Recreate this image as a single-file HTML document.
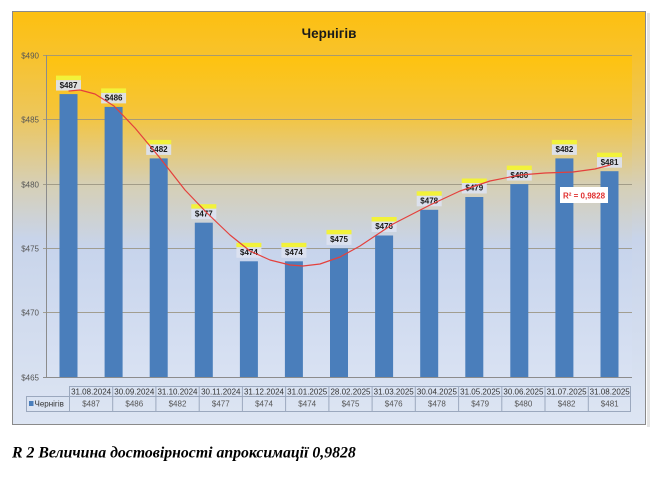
<!DOCTYPE html>
<html><head><meta charset="utf-8"><style>
html,body{margin:0;padding:0;background:#fff;width:657px;height:480px;overflow:hidden}
svg{display:block}
text{font-family:"Liberation Sans","DejaVu Sans",sans-serif}
</style></head><body>
<svg width="657" height="480" viewBox="0 0 657 480" xmlns="http://www.w3.org/2000/svg">
<defs>
<linearGradient id="og" x1="0" y1="0" x2="0" y2="1">
<stop offset="0" stop-color="#FDC010"/>
<stop offset="0.1" stop-color="#F8C22A"/>
<stop offset="0.25" stop-color="#EDC65A"/>
<stop offset="0.42" stop-color="#D6CFB6"/>
<stop offset="0.55" stop-color="#C8D4EA"/>
<stop offset="1" stop-color="#DDE5F3"/>
</linearGradient>
<linearGradient id="pg" x1="0" y1="0" x2="0" y2="1">
<stop offset="0" stop-color="#FEC30E"/>
<stop offset="0.18" stop-color="#F5C43A"/>
<stop offset="0.4" stop-color="#D6CFB4"/>
<stop offset="0.6" stop-color="#C7D4EC"/>
<stop offset="1" stop-color="#D9E2F3"/>
</linearGradient>
</defs>
<rect x="647" y="13" width="3" height="414" fill="#e4e4e4"/>
<rect x="12.5" y="11.5" width="633" height="413" fill="url(#og)" stroke="#8a8a8a" stroke-width="1"/>
<rect x="46" y="55" width="586" height="322" fill="url(#pg)"/>
<text x="329" y="38" font-size="13.5" font-weight="bold" text-anchor="middle" fill="#1a1a1a">Чернігів</text>
<g stroke="#9a9480" stroke-width="1" opacity="0.85">
<line x1="43" y1="55.5" x2="632" y2="55.5"/>
<line x1="43" y1="119.5" x2="632" y2="119.5"/>
<line x1="43" y1="184.5" x2="632" y2="184.5"/>
<line x1="43" y1="248.5" x2="632" y2="248.5"/>
<line x1="43" y1="312.5" x2="632" y2="312.5"/>
</g>
<line x1="46.5" y1="55" x2="46.5" y2="377" stroke="#8c8c8c"/>
<line x1="43" y1="377.5" x2="632" y2="377.5" stroke="#8c8c8c"/>
<g font-size="8" fill="#555" text-anchor="end">
<text x="39" y="58.5">$490</text>
<text x="39" y="122.5">$485</text>
<text x="39" y="187.5">$480</text>
<text x="39" y="251.5">$475</text>
<text x="39" y="315.5">$470</text>
<text x="39" y="380.5">$465</text>
</g>
<g fill="#4A7EBB">
<rect x="59.5" y="94.1" width="18" height="283"/>
<rect x="104.6" y="106.9" width="18" height="270.1"/>
<rect x="149.7" y="158.4" width="18" height="218.6"/>
<rect x="194.8" y="222.7" width="18" height="154.3"/>
<rect x="239.9" y="261.3" width="18" height="115.7"/>
<rect x="284.9" y="261.3" width="18" height="115.7"/>
<rect x="330" y="248.4" width="18" height="128.6"/>
<rect x="375.1" y="235.5" width="18" height="141.5"/>
<rect x="420.2" y="209.8" width="18" height="167.2"/>
<rect x="465.3" y="197" width="18" height="180"/>
<rect x="510.3" y="184.1" width="18" height="192.9"/>
<rect x="555.4" y="158.4" width="18" height="218.6"/>
<rect x="600.5" y="171.2" width="18" height="205.8"/>
</g>
<g font-size="8" font-weight="bold" fill="#1a1a1a" text-anchor="middle">
<g><rect x="56" y="75.6" width="25" height="4.5" fill="#F2F23A"/><rect x="56" y="80.1" width="25" height="10.5" fill="#DCE2F0" opacity="0.92"/><text x="68.5" y="87.8">$487</text></g>
<g><rect x="101.1" y="88.4" width="25" height="4.5" fill="#F2F23A"/><rect x="101.1" y="92.9" width="25" height="10.5" fill="#DCE2F0" opacity="0.92"/><text x="113.6" y="100.6">$486</text></g>
<g><rect x="146.2" y="139.9" width="25" height="4.5" fill="#F2F23A"/><rect x="146.2" y="144.4" width="25" height="10.5" fill="#DCE2F0" opacity="0.92"/><text x="158.7" y="152.1">$482</text></g>
<g><rect x="191.3" y="204.2" width="25" height="4.5" fill="#F2F23A"/><rect x="191.3" y="208.7" width="25" height="10.5" fill="#DCE2F0" opacity="0.92"/><text x="203.8" y="216.4">$477</text></g>
<g><rect x="236.4" y="242.8" width="25" height="4.5" fill="#F2F23A"/><rect x="236.4" y="247.3" width="25" height="10.5" fill="#DCE2F0" opacity="0.92"/><text x="248.9" y="255">$474</text></g>
<g><rect x="281.4" y="242.8" width="25" height="4.5" fill="#F2F23A"/><rect x="281.4" y="247.3" width="25" height="10.5" fill="#DCE2F0" opacity="0.92"/><text x="293.9" y="255">$474</text></g>
<g><rect x="326.5" y="229.9" width="25" height="4.5" fill="#F2F23A"/><rect x="326.5" y="234.4" width="25" height="10.5" fill="#DCE2F0" opacity="0.92"/><text x="339" y="242.1">$475</text></g>
<g><rect x="371.6" y="217" width="25" height="4.5" fill="#F2F23A"/><rect x="371.6" y="221.5" width="25" height="10.5" fill="#DCE2F0" opacity="0.92"/><text x="384.1" y="229.2">$476</text></g>
<g><rect x="416.7" y="191.3" width="25" height="4.5" fill="#F2F23A"/><rect x="416.7" y="195.8" width="25" height="10.5" fill="#DCE2F0" opacity="0.92"/><text x="429.2" y="203.5">$478</text></g>
<g><rect x="461.8" y="178.5" width="25" height="4.5" fill="#F2F23A"/><rect x="461.8" y="183" width="25" height="10.5" fill="#DCE2F0" opacity="0.92"/><text x="474.3" y="190.7">$479</text></g>
<g><rect x="506.8" y="165.6" width="25" height="4.5" fill="#F2F23A"/><rect x="506.8" y="170.1" width="25" height="10.5" fill="#DCE2F0" opacity="0.92"/><text x="519.3" y="177.8">$480</text></g>
<g><rect x="551.9" y="139.9" width="25" height="4.5" fill="#F2F23A"/><rect x="551.9" y="144.4" width="25" height="10.5" fill="#DCE2F0" opacity="0.92"/><text x="564.4" y="152.1">$482</text></g>
<g><rect x="597" y="152.7" width="25" height="4.5" fill="#F2F23A"/><rect x="597" y="157.2" width="25" height="10.5" fill="#DCE2F0" opacity="0.92"/><text x="609.5" y="164.9">$481</text></g>
</g>
<polyline fill="none" stroke="#E4403C" stroke-width="1.2" stroke-linejoin="round" stroke-linecap="round"
points="69,91 80,90 95,94 114,106 135,128 160,158 185,190 207,213 230,235 250,251 270,260 290,265 303,266 320,264 340,257 360,246 393,224 430,205 460,191 490,181 520,175 545,173 573,172 595,169 610,165"/>
<rect x="560" y="187" width="48" height="16" fill="#ffffff"/>
<text x="584" y="198.5" font-size="8" font-weight="bold" fill="#E03030" text-anchor="middle">R² = 0,9828</text>
<g stroke="#9BA8BE" stroke-width="1" fill="none">
<line x1="69" y1="386.5" x2="631" y2="386.5"/>
<line x1="26" y1="396.5" x2="631" y2="396.5"/>
<line x1="26" y1="411.5" x2="631" y2="411.5"/>
<line x1="26.5" y1="396" x2="26.5" y2="412"/>
<line x1="69.5" y1="386" x2="69.5" y2="412"/>
<line x1="112.7" y1="386" x2="112.7" y2="412"/>
<line x1="155.9" y1="386" x2="155.9" y2="412"/>
<line x1="199.2" y1="386" x2="199.2" y2="412"/>
<line x1="242.4" y1="386" x2="242.4" y2="412"/>
<line x1="285.6" y1="386" x2="285.6" y2="412"/>
<line x1="328.9" y1="386" x2="328.9" y2="412"/>
<line x1="372.1" y1="386" x2="372.1" y2="412"/>
<line x1="415.3" y1="386" x2="415.3" y2="412"/>
<line x1="458.6" y1="386" x2="458.6" y2="412"/>
<line x1="501.8" y1="386" x2="501.8" y2="412"/>
<line x1="545" y1="386" x2="545" y2="412"/>
<line x1="588.3" y1="386" x2="588.3" y2="412"/>
<line x1="630.5" y1="386" x2="630.5" y2="412"/>
</g>
<g font-size="8" fill="#333" text-anchor="middle">
<text x="91.1" y="394.5">31.08.2024</text>
<text x="134.3" y="394.5">30.09.2024</text>
<text x="177.5" y="394.5">31.10.2024</text>
<text x="220.8" y="394.5">30.11.2024</text>
<text x="264" y="394.5">31.12.2024</text>
<text x="307.2" y="394.5">31.01.2025</text>
<text x="350.5" y="394.5">28.02.2025</text>
<text x="393.7" y="394.5">31.03.2025</text>
<text x="436.9" y="394.5">30.04.2025</text>
<text x="480.2" y="394.5">31.05.2025</text>
<text x="523.4" y="394.5">30.06.2025</text>
<text x="566.6" y="394.5">31.07.2025</text>
<text x="609.7" y="394.5">31.08.2025</text>
</g>
<g font-size="8" fill="#555" text-anchor="middle">
<text x="91.1" y="406.5">$487</text>
<text x="134.3" y="406.5">$486</text>
<text x="177.5" y="406.5">$482</text>
<text x="220.8" y="406.5">$477</text>
<text x="264" y="406.5">$474</text>
<text x="307.2" y="406.5">$474</text>
<text x="350.5" y="406.5">$475</text>
<text x="393.7" y="406.5">$476</text>
<text x="436.9" y="406.5">$478</text>
<text x="480.2" y="406.5">$479</text>
<text x="523.4" y="406.5">$480</text>
<text x="566.6" y="406.5">$482</text>
<text x="609.7" y="406.5">$481</text>
</g>
<rect x="29" y="401" width="4.5" height="5" fill="#4A7EBB"/>
<text x="34.5" y="406.5" font-size="8" fill="#333">Чернігів</text>
<text x="12" y="457.5" style="font-family:'Liberation Serif','DejaVu Serif',serif;font-size:15.8px;font-weight:bold;font-style:italic" fill="#000">R 2 Величина достовірності апроксимації 0,9828</text>
</svg>
</body></html>
